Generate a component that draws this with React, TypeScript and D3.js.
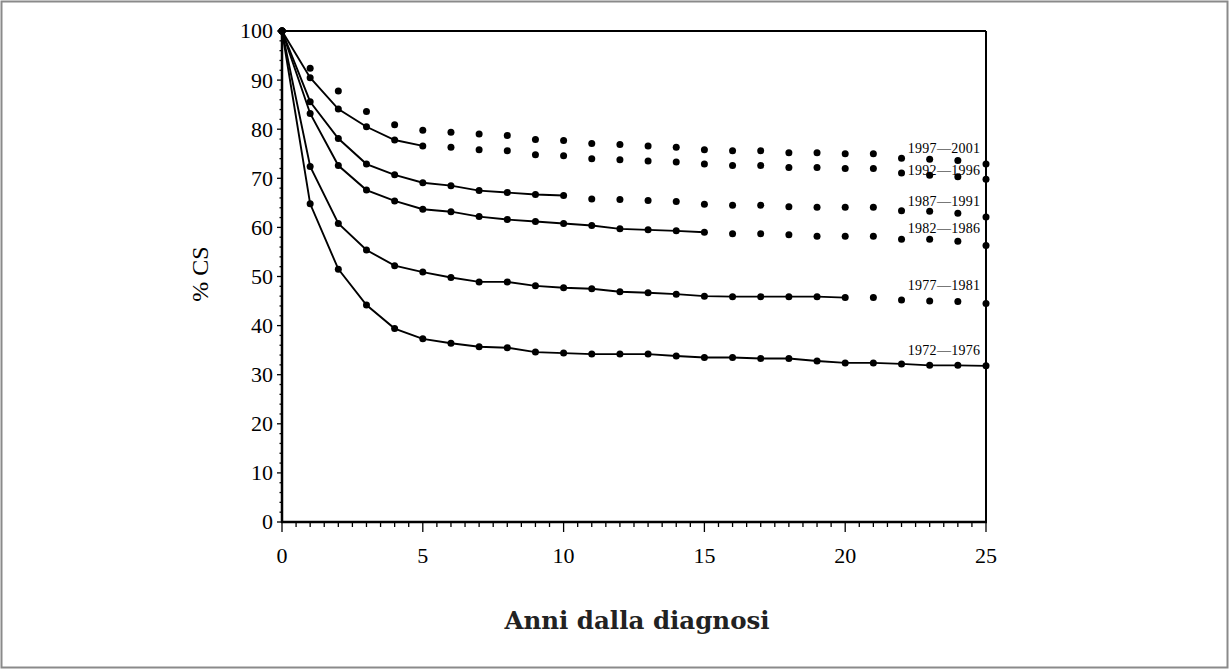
import React from "react";
import * as d3 from "d3";

const years = d3.range(0, 26);
const cohorts = ["1972—1976", "1977—1981", "1982—1986", "1987—1991", "1992—1996", "1997—2001"];
const s1972 = [100, 64.8, 51.5, 44.2, 39.4, 37.3, 36.4, 35.7, 35.5, 34.6, 34.4, 34.2, 34.2, 34.2, 33.8, 33.5, 33.5, 33.3, 33.3, 32.8, 32.4, 32.4, 32.2, 31.9, 31.9, 31.8];
const s1977 = [100, 72.4, 60.8, 55.4, 52.2, 50.9, 49.8, 48.9, 48.9, 48.1, 47.7, 47.5, 46.9, 46.7, 46.4, 46.0, 45.9, 45.9, 45.9, 45.9, 45.7, 45.7, 45.2, 45.0, 44.9, 44.5];
const s1982 = [100, 83.2, 72.6, 67.6, 65.4, 63.7, 63.2, 62.2, 61.6, 61.2, 60.8, 60.4, 59.7, 59.5, 59.3, 59.0, 58.7, 58.7, 58.5, 58.2, 58.2, 58.2, 57.6, 57.6, 57.2, 56.3];
const s1987 = [100, 85.6, 78.1, 72.9, 70.7, 69.1, 68.5, 67.5, 67.1, 66.7, 66.5, 65.8, 65.7, 65.5, 65.3, 64.7, 64.5, 64.5, 64.2, 64.1, 64.1, 64.1, 63.4, 63.3, 62.9, 62.1];
const s1992 = [100, 90.5, 84.1, 80.5, 77.8, 76.6, 76.3, 75.8, 75.6, 74.8, 74.6, 74.0, 73.8, 73.5, 73.3, 72.9, 72.6, 72.6, 72.2, 72.2, 72.0, 72.0, 71.1, 70.6, 70.3, 69.8];
const s1997 = [100, 92.4, 87.8, 83.6, 80.9, 79.8, 79.4, 79.0, 78.7, 77.9, 77.7, 77.1, 76.9, 76.6, 76.3, 75.8, 75.6, 75.6, 75.2, 75.2, 75.0, 75.0, 74.1, 73.9, 73.6, 72.9];
const seriesValues = [s1972, s1977, s1982, s1987, s1992, s1997];
// last observed year (solid line) per cohort; later points are projections (dots only)
const observedUntil = [25, 20, 15, 10, 5, 0];
// label anchor (in % CS units) per cohort
const labelValues = [34.9, 48.3, 59.8, 65.4, 71.7, 76.1];
const xTicks = [0, 5, 10, 15, 20, 25];
const yTicks = [0, 10, 20, 30, 40, 50, 60, 70, 80, 90, 100];

const W = 1229, H = 669;
const X0 = 282, X1 = 986, Y0 = 522, Y1 = 31;

export default function App() {
  const x = d3.scaleLinear().domain([0, 25]).range([X0, X1]);
  const y = d3.scaleLinear().domain([0, 100]).range([Y0, Y1]);
  const line = d3.line<number>().x((_, i) => x(years[i])).y((d) => y(d));
  const xMinor = d3.range(0, 25.01, 0.5);
  const yMinor = d3.range(0, 100.01, 2);
  const tickFont = "'Liberation Serif', 'Times New Roman', serif";

  return (
    <svg width={W} height={H} style={{ position: "absolute", left: 0, top: 0, background: "#fff" }}>
      <rect x={1.5} y={1.5} width={W - 3} height={H - 3} fill="#fff" stroke="#8a8a8a" strokeWidth={2} />
      {/* frame */}
      <line x1={X0} x2={X1} y1={Y1} y2={Y1} stroke="#000" strokeWidth={2} />
      <line x1={X1} x2={X1} y1={Y1} y2={Y0} stroke="#000" strokeWidth={2} />
      <line x1={X0} x2={X0} y1={Y1 - 1} y2={Y0 + 1} stroke="#000" strokeWidth={2.5} />
      <line x1={X0 - 1} x2={X1 + 1} y1={Y0} y2={Y0} stroke="#000" strokeWidth={2.5} />
      {/* x ticks */}
      {xMinor.map((t) => (
        <line key={"xm" + t} x1={x(t)} x2={x(t)} y1={Y0} y2={Y0 + (t % 5 === 0 ? 10 : 5)} stroke="#000" strokeWidth={1.3} />
      ))}
      {xTicks.map((t) => (
        <text key={"xl" + t} x={x(t)} y={563} textAnchor="middle" fontFamily={tickFont} fontSize={22} fill="#000">
          {t}
        </text>
      ))}
      {/* y ticks */}
      {yMinor.map((t) => (
        <line key={"ym" + t} x1={X0} x2={X0 - (t % 10 === 0 ? 5 : 2.5)} y1={y(t)} y2={y(t)} stroke="#000" strokeWidth={1.3} />
      ))}
      {yTicks.map((t) => (
        <text key={"yl" + t} x={273} y={y(t)} dy="0.34em" textAnchor="end" fontFamily={tickFont} fontSize={22} fill="#000">
          {t}
        </text>
      ))}
      <text transform={`translate(208,274) rotate(-90)`} textAnchor="middle" fontFamily={tickFont} fontSize={24} fill="#000">
        % CS
      </text>
      <text x={637} y={629} textAnchor="middle" fontFamily="'DejaVu Serif', serif" fontWeight="bold" fontSize={24.5} fill="#222">
        Anni dalla diagnosi
      </text>
      {/* series */}
      {seriesValues.map((vals, si) => {
        const solid = vals.slice(0, observedUntil[si] + 1);
        return (
          <g key={cohorts[si]}>
            {solid.length > 1 && <path d={line(solid) || ""} fill="none" stroke="#000" strokeWidth={1.9} />}
            {vals.map((v, i) => (
              <circle key={i} cx={x(years[i])} cy={y(v)} r={3.5} fill="#000" />
            ))}
            <text x={x(22.22)} y={y(labelValues[si])} dy="0.34em" fontFamily={tickFont} fontSize={14} letterSpacing={0.3} fill="#000">
              {cohorts[si]}
            </text>
          </g>
        );
      })}
    </svg>
  );
}
